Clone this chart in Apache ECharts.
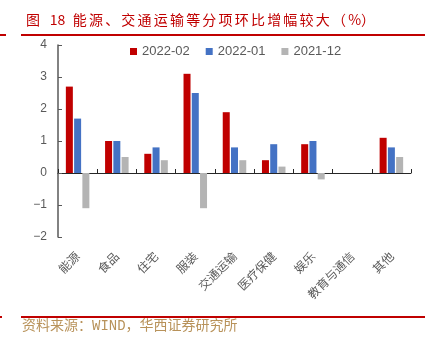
<!DOCTYPE html>
<html>
<head>
<meta charset="utf-8">
<script src="https://cdn.jsdelivr.net/npm/echarts@6/dist/echarts.min.js"></script>
<style>
  html, body { margin: 0; padding: 0; background: #ffffff; }
  #chart { width: 439px; height: 338px; }
</style>
</head>
<body>
<div id="chart"></div>
<script>
// CPI sub-items, month-on-month change (%)
const categories = ['能源', '食品', '住宅', '服装', '交通运输', '医疗保健', '娱乐', '教育与通信', '其他'];
const seriesNames = ['2022-02', '2022-01', '2021-12'];
const feb2022 = [2.7, 1.0, 0.6, 3.1, 1.9, 0.4, 0.9, null, 1.1];
const jan2022 = [1.7, 1.0, 0.8, 2.5, 0.8, 0.9, 1.0, null, 0.8];
const dec2021 = [-1.1, 0.5, 0.4, -1.1, 0.4, 0.2, -0.2, null, 0.5];
const yTicks = [-2, -1, 0, 1, 2, 3, 4];

const titleText = '图 18 能源、交通运输等分项环比增幅较大（%）';
const sourceText = '资料来源：WIND，华西证券研究所';

const RED = '#C00000';
const BLUE = '#4472C4';
const GRAY = '#B4B4B4';
const TEXT = '#595959';
const CJK = "'Noto Sans CJK SC', 'Liberation Sans', sans-serif";

// Title is set with wide character cells (letter-spaced look):
// full-width characters get style "w", spaces "s", the rest keep natural width.
function spacedTitle(str) {
  return Array.from(str).map(function (ch) {
    if (ch === ' ') return '{s| }';
    if (ch.charCodeAt(0) > 0x2E80) return '{w|' + ch + '}';
    return '{n|' + ch + '}';
  }).join('');
}

const chart = echarts.init(document.getElementById('chart'), null, { renderer: 'canvas' });

function barSeries(name, data, color) {
  return {
    name: name,
    type: 'bar',
    xAxisIndex: 0,
    data: data,
    barWidth: 7,
    barGap: '18%',
    itemStyle: { color: color },
    emphasis: { disabled: true }
  };
}

const titleFont = { color: RED, fontSize: 14, fontWeight: 'normal', fontFamily: CJK };

chart.setOption({
  animation: false,
  title: {
    text: spacedTitle(titleText),
    left: 21,
    top: 8,
    textStyle: Object.assign({}, titleFont, {
      rich: {
        w: Object.assign({}, titleFont, { width: 16.2 }),
        s: Object.assign({}, titleFont, { width: 7.5 }),
        n: Object.assign({}, titleFont)
      }
    })
  },
  legend: {
    data: seriesNames,
    left: 125,
    top: 40,
    icon: 'rect',
    itemWidth: 7,
    itemHeight: 7,
    itemGap: 16,
    textStyle: { color: TEXT, fontSize: 13, fontFamily: "'Liberation Sans', Arial, sans-serif" }
  },
  grid: { left: 58, right: 28, top: 45, bottom: 101, containLabel: false },
  xAxis: [
    {
      type: 'category',
      data: categories,
      position: 'bottom',
      axisLine: { onZero: true, lineStyle: { color: '#262626', width: 1 } },
      axisTick: { show: true, inside: true, length: 4, interval: 0, lineStyle: { color: '#262626' } },
      axisLabel: { show: false },
      splitLine: { show: false }
    },
    {
      type: 'category',
      data: categories,
      position: 'bottom',
      axisLine: { show: false, onZero: false },
      axisTick: { show: false },
      axisLabel: {
        show: true,
        interval: 0,
        rotate: 45,
        margin: 17,
        color: TEXT,
        fontSize: 12,
        fontFamily: CJK
      },
      splitLine: { show: false }
    }
  ],
  yAxis: {
    type: 'value',
    min: yTicks[0],
    max: yTicks[yTicks.length - 1],
    interval: 1,
    axisLine: { show: true, lineStyle: { color: '#595959', width: 1.5 } },
    axisTick: { show: true, inside: true, length: 4, lineStyle: { color: '#595959' } },
    axisLabel: {
      color: TEXT,
      fontSize: 12,
      margin: 11,
      fontFamily: "'Liberation Sans', Arial, sans-serif",
      formatter: function (v) { return String(v).replace('-', '\u2212'); }
    },
    splitLine: { show: false }
  },
  series: [
    barSeries(seriesNames[0], feb2022, RED),
    barSeries(seriesNames[1], jan2022, BLUE),
    barSeries(seriesNames[2], dec2021, GRAY)
  ],
  graphic: [
    { type: 'rect', left: 0, top: 34, shape: { width: 6, height: 2 }, style: { fill: RED } },
    { type: 'rect', left: 21, top: 34, shape: { width: 404, height: 2 }, style: { fill: RED } },
    { type: 'rect', left: 0, top: 316, shape: { width: 2, height: 2 }, style: { fill: RED } },
    { type: 'rect', left: 21, top: 316, shape: { width: 404, height: 2 }, style: { fill: RED } },
    {
      type: 'text',
      left: 22,
      top: 319,
      style: {
        text: sourceText,
        fill: '#B8925A',
        fontSize: 14,
        fontFamily: "'Liberation Mono', 'Noto Sans CJK SC', monospace"
      }
    }
  ]
});
</script>
</body>
</html>
